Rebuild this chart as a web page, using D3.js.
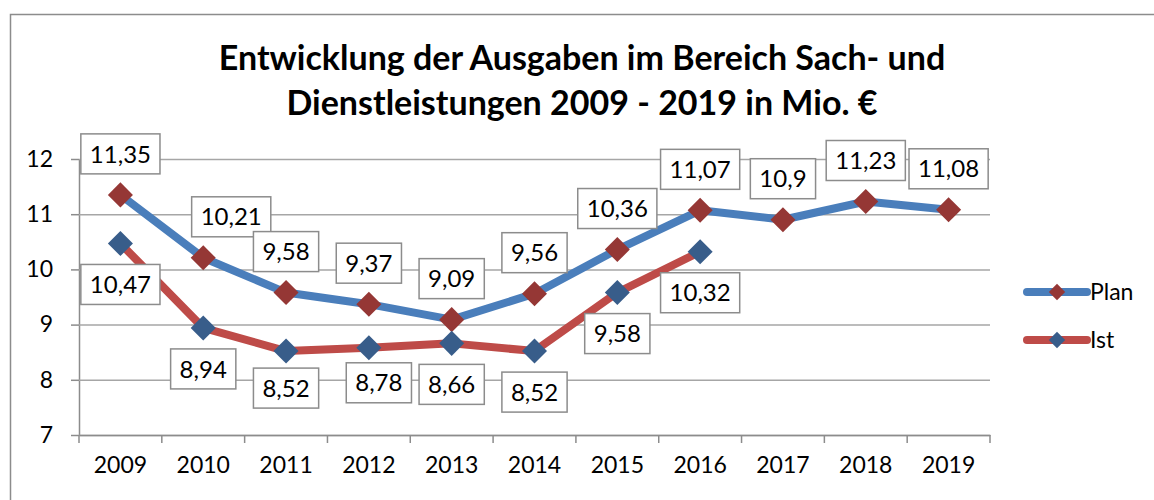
<!DOCTYPE html>
<html>
<head>
<meta charset="utf-8">
<script src="https://cdn.jsdelivr.net/npm/d3@7"></script>
<style>
  body { margin: 0; background: #fff; }
  svg { display: block; font-family: Lato, "Open Sans", sans-serif; }
</style>
</head>
<body>
<div class="chart"></div>
<script>
const years = ['2009', '2010', '2011', '2012', '2013', '2014', '2015', '2016', '2017', '2018', '2019'];
const planValues = [11.35, 10.21, 9.58, 9.37, 9.09, 9.56, 10.36, 11.07, 10.9, 11.23, 11.08];
const planLabels = ['11,35', '10,21', '9,58', '9,37', '9,09', '9,56', '10,36', '11,07', '10,9', '11,23', '11,08'];
const istValues = [10.47, 8.94, 8.52, 8.58, 8.66, 8.52, 9.58, 10.32];
const istLabels = ['10,47', '8,94', '8,52', '8,78', '8,66', '8,52', '9,58', '10,32'];
const yTicks = [7, 8, 9, 10, 11, 12];
const titleLines = ['Entwicklung der Ausgaben im Bereich Sach- und', 'Dienstleistungen 2009 - 2019 in Mio. €'];

const W = 1154, H = 500;
const plot = { left: 79, right: 990, top: 159, bottom: 435 };

const svg = d3.select('.chart')
    .append('svg')
    .attr('width', W)
    .attr('height', H);

// outer chart frame
svg.append('rect')
    .attr('x', 10.5).attr('y', 14.5)
    .attr('width', 1200).attr('height', 600)
    .attr('fill', '#fff')
    .attr('stroke', '#8c8c8c')
    .attr('stroke-width', 1.5);

// title
svg.append('g')
    .selectAll('text')
    .data(titleLines)
    .join('text')
    .attr('x', 582)
    .attr('y', (d, i) => 70 + i * 45)
    .attr('text-anchor', 'middle')
    .attr('font-size', 34)
    .attr('font-weight', 700)
    .attr('fill', '#000')
    .text(d => d);

// scales
const x = d3.scaleBand().domain(years).range([plot.left, plot.right]);
const y = d3.scaleLinear().domain([7, 12]).range([plot.bottom, plot.top]);
const cx = i => x(years[i]) + x.bandwidth() / 2;

// gridlines + y axis
const yAxis = d3.axisLeft(y)
    .tickValues(yTicks)
    .tickFormat(d => d)
    .tickSizeInner(-(plot.right - plot.left))
    .tickSizeOuter(0)
    .tickPadding(26);

const yG = svg.append('g')
    .attr('transform', `translate(${plot.left},0)`)
    .call(yAxis);
yG.select('.domain').attr('stroke', '#8c8c8c').attr('stroke-width', 1.5);
yG.selectAll('.tick line').attr('stroke', '#a6a6a6').attr('stroke-width', 1.5);
yG.selectAll('.tick')
    .append('line')
    .attr('x1', -8).attr('x2', 0)
    .attr('stroke', '#8c8c8c').attr('stroke-width', 1.5);
yG.selectAll('.tick text')
    .attr('font-size', 23)
    .attr('font-family', 'Lato, sans-serif')
    .attr('fill', '#000');

// x axis
const xAxis = d3.axisBottom(x).tickSize(0).tickPadding(22);
const xG = svg.append('g')
    .attr('transform', `translate(0,${plot.bottom})`)
    .call(xAxis);
xG.select('.domain').attr('stroke', '#8c8c8c').attr('stroke-width', 1.5);
xG.selectAll('.tick text')
    .attr('font-size', 23)
    .attr('font-family', 'Lato, sans-serif')
    .attr('fill', '#000');
xG.selectAll('.boundary')
    .data(years.concat(['end']))
    .join('line')
    .attr('class', 'boundary')
    .attr('x1', (d, i) => i < years.length ? x(d) : plot.right)
    .attr('x2', (d, i) => i < years.length ? x(d) : plot.right)
    .attr('y1', 0).attr('y2', 8)
    .attr('stroke', '#8c8c8c').attr('stroke-width', 1.5);

const series = [
    { name: 'Plan', values: planValues, labels: planLabels, line: '#4a7ebb', marker: '#953735', dir: -1 },
    { name: 'Ist', values: istValues, labels: istLabels, line: '#be4b48', marker: '#385d8a', dir: 1 }
];

// label nudges where Excel moved boxes to avoid overlap
const nudge = { 'Plan-1': [28, 0], 'Ist-3': [10, -6], 'Ist-2': [0, -4] };

const lineGen = d3.line().x((d, i) => cx(i)).y(d => y(d));
const diamond = d3.symbol().type(d3.symbolDiamond2);

series.forEach(s => {
    const g = svg.append('g').attr('class', 'series-' + s.name);
    g.append('path')
        .attr('d', lineGen(s.values))
        .attr('fill', 'none')
        .attr('stroke', s.line)
        .attr('stroke-width', 8)
        .attr('stroke-linejoin', 'round')
        .attr('stroke-linecap', 'round');
    g.selectAll('.pt')
        .data(s.values)
        .join('path')
        .attr('class', 'pt')
        .attr('transform', (d, i) => `translate(${cx(i)},${y(d)})`)
        .attr('d', diamond.size(400)())
        .attr('fill', s.marker);
});

// data labels
series.forEach(s => {
    const g = svg.append('g').attr('class', 'labels-' + s.name);
    s.values.forEach((v, i) => {
        const n = nudge[s.name + '-' + i] || [0, 0];
        const lx = cx(i) + n[0];
        const ly = y(v) + s.dir * 41 + n[1];
        const lg = g.append('g').attr('transform', `translate(${lx},${ly})`);
        const rect = lg.append('rect');
        const t = lg.append('text')
            .attr('text-anchor', 'middle')
            .attr('dy', '0.36em')
            .attr('font-size', 24)
            .attr('fill', '#000')
            .text(s.labels[i]);
        const w = t.node().getComputedTextLength() + 18;
        rect.attr('x', -w / 2).attr('y', -20)
            .attr('width', w).attr('height', 40)
            .attr('fill', '#fff')
            .attr('stroke', '#8c8c8c')
            .attr('stroke-width', 1.5);
    });
});

// legend
const legend = svg.append('g').attr('transform', 'translate(1027,292)');
series.forEach((s, i) => {
    const lg = legend.append('g').attr('transform', `translate(0,${i * 48})`);
    lg.append('line')
        .attr('x1', 0).attr('x2', 60)
        .attr('stroke', s.line).attr('stroke-width', 8)
        .attr('stroke-linecap', 'round');
    lg.append('path')
        .attr('transform', 'translate(30,0)')
        .attr('d', diamond.size(170)())
        .attr('fill', s.marker);
    lg.append('text')
        .attr('x', 63).attr('dy', '0.36em')
        .attr('font-size', 23)
        .attr('fill', '#000')
        .text(s.name);
});
</script>
</body>
</html>
